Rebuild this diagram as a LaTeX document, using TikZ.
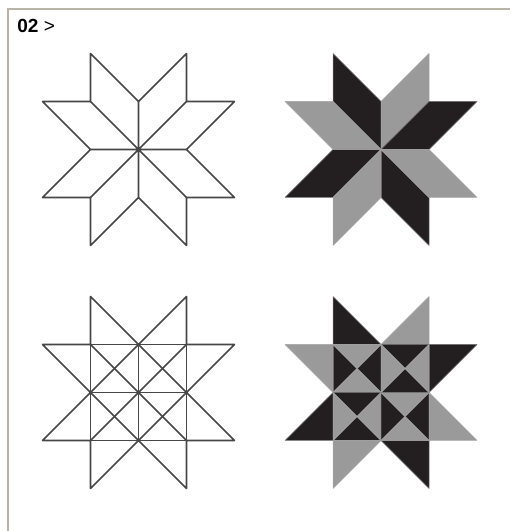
\documentclass[tikz,border=0pt]{standalone}
\usepackage{fontspec}
\setmainfont{Liberation Sans}
\usepackage{tikz}
\usepackage{xcolor}

\definecolor{inkblack}{HTML}{231F20}
\definecolor{inkgray}{HTML}{9A9A9A}
\definecolor{framegray}{HTML}{B8B4A8}

\tikzset{
  starline/.style={draw=black!72, line width=0.8pt, line join=round},
  darkpiece/.style={fill=inkblack, draw=black!55, line width=0.25pt, line join=round},
  lightpiece/.style={fill=inkgray, draw=black!35, line width=0.25pt, line join=round},
}

\begin{document}
\begin{tikzpicture}[x=0.5pt,y=0.5pt,every node/.style={font=\fontsize{9.5}{11}\selectfont}]
\useasboundingbox (0,0) rectangle (510,531);
% frame and number
\draw[framegray, line width=0.6pt] (8,0) -- (8,522) -- (510,522);
\node[anchor=west, inner sep=0pt] (num) at (17,505.5) {\textbf{02} >};

% star, lines only
\begin{scope}[shift={(138.5,381.5)}, scale=48]
\draw[starline] (-1,2) -- (0,1) -- (1,2) -- (1,1) -- (2,1) -- (1,0) -- (2,-1) -- (1,-1) -- (1,-2) -- (0,-1) -- (-1,-2) -- (-1,-1) -- (-2,-1) -- (-1,0) -- (-2,1) -- (-1,1) -- cycle;
\draw[starline] (0,-1) -- (0,1) (-1,0) -- (1,0) (-1,-1) -- (1,1) (-1,1) -- (1,-1);
\end{scope}

% star, filled diamonds
\begin{scope}[shift={(381,381.5)}, scale=48]
\foreach \a in {0,90,180,270} {
  \path[darkpiece, rotate=\a] (0,0) -- (0,1) -- (-1,2) -- (-1,1) -- cycle;
  \path[lightpiece, rotate=\a] (0,0) -- (0,1) -- (1,2) -- (1,1) -- cycle;
}
\end{scope}

% star cut into triangles, lines only
\begin{scope}[shift={(138.5,138.5)}, scale=48]
\draw[starline] (-1,2) -- (0,1) -- (1,2) -- (1,1) -- (2,1) -- (1,0) -- (2,-1) -- (1,-1) -- (1,-2) -- (0,-1) -- (-1,-2) -- (-1,-1) -- (-2,-1) -- (-1,0) -- (-2,1) -- (-1,1) -- cycle;
\draw[starline] (-1,-2) -- (-1,2) (1,-2) -- (1,2) (0,-1) -- (0,1);
\draw[starline] (-2,1) -- (2,1) (-2,-1) -- (2,-1) (-1,0) -- (1,0);
\draw[starline] (-1,-1) -- (1,1) (-1,1) -- (1,-1);
\draw[starline] (0,1) -- (1,0) -- (0,-1) -- (-1,0) -- cycle;
\end{scope}

% star cut into triangles, filled
\begin{scope}[shift={(381,138.5)}, scale=48]
\foreach \a in {0,90,180,270} {
  \path[darkpiece, rotate=\a] (-1,1) -- (-1,2) -- (0,1) -- cycle;
  \path[lightpiece, rotate=\a] (0,1) -- (1,2) -- (1,1) -- cycle;
  \path[darkpiece, rotate=\a] (-1,0) -- (-1,1) -- (-0.5,0.5) -- cycle;
  \path[darkpiece, rotate=\a] (0,0) -- (0,1) -- (-0.5,0.5) -- cycle;
  \path[lightpiece, rotate=\a] (-1,1) -- (0,1) -- (-0.5,0.5) -- cycle;
  \path[lightpiece, rotate=\a] (-1,0) -- (0,0) -- (-0.5,0.5) -- cycle;
}
\end{scope}
\end{tikzpicture}
\end{document}
